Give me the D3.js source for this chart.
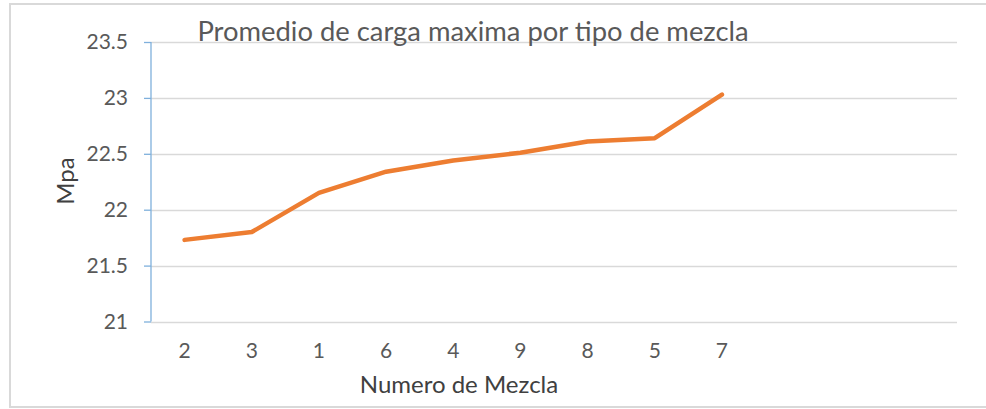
<!DOCTYPE html>
<html>
<head>
<meta charset="utf-8">
<script src="https://cdn.jsdelivr.net/npm/d3@7"></script>
<style>
	body { margin: 0; background: #fff; }
	#container { width: 986px; height: 409px; }
	text { font-family: Lato, "Open Sans", sans-serif; }
</style>
</head>
<body>
<div id="container"></div>
<script>
////////// DATA

var categories = ["2", "3", "1", "6", "4", "9", "8", "5", "7"]; // Numero de Mezcla, in plotted order
var values = [21.73, 21.80, 22.15, 22.34, 22.44, 22.51, 22.61, 22.64, 23.03]; // Mpa
var yTicks = [21, 21.5, 22, 22.5, 23, 23.5];
var xSlots = 12; // the category axis leaves room for 12 entries, only 9 are filled

var gWidth = 986;
var gHeight = 409;

function draw()
{
	var svg = d3.select("#container").append("svg")
		.attr("width", gWidth)
		.attr("height", gHeight);

	var left = 151, right = 957, top = 42, bottom = 321.5;

	var x = d3.scaleBand().domain(d3.range(xSlots)).range([left, right]);
	var y = d3.scaleLinear().domain([21, 23.5]).range([bottom, top]);

	// chart frame
	svg.append("rect")
		.attr("x", 10).attr("y", 4)
		.attr("width", gWidth + 10).attr("height", 403)
		.attr("fill", "none")
		.style("stroke", "#d9d9d9")
		.style("stroke-width", "2px");

	// grid lines
	svg.selectAll(".grid").data(yTicks).enter().append("line")
		.attr("class", "grid")
		.attr("x1", left).attr("x2", right)
		.attr("y1", function(d) { return Math.round(y(d)) + 0.5; })
		.attr("y2", function(d) { return Math.round(y(d)) + 0.5; })
		.style("stroke", "#d9d9d9")
		.style("stroke-width", "1.3px");

	// Y axis (blue, with ticks to the left)
	var yAxis = d3.axisLeft(y).tickValues(yTicks).tickSize(7).tickPadding(16)
		.tickFormat(function(d) { return d; });
	var gy = svg.append("g").attr("transform", "translate(" + left + ",0)").call(yAxis);
	gy.select(".domain").attr("d", "M0," + top + "V" + bottom).style("stroke", "#7fb0dc").style("stroke-width", "1.3px");
	gy.selectAll(".tick line").style("stroke", "#7fb0dc").style("stroke-width", "1.3px");
	gy.selectAll(".tick text")
		.style("font-family", "Lato, sans-serif")
		.style("font-size", "21px")
		.style("fill", "#595959");

	// X axis labels (no line, no ticks; line is the 21 gridline)
	var xAxis = d3.axisBottom(x).tickSize(0).tickPadding(22)
		.tickFormat(function(d) { return categories[d] || ""; });
	var gx = svg.append("g").attr("transform", "translate(0," + bottom + ")").call(xAxis);
	gx.select(".domain").remove();
	gx.selectAll(".tick text")
		.style("font-family", "Lato, sans-serif")
		.style("font-size", "21px")
		.style("fill", "#595959");

	// series line
	var line = d3.line()
		.x(function(d, i) { return x(i) + x.bandwidth() / 2; })
		.y(function(d) { return y(d); });
	svg.append("path")
		.datum(values)
		.attr("d", line)
		.attr("fill", "none")
		.style("stroke", "#ed7d31")
		.style("stroke-width", "4.5px")
		.style("stroke-linejoin", "round")
		.style("stroke-linecap", "round");

	// title
	svg.append("text")
		.attr("x", 473).attr("y", 41)
		.attr("text-anchor", "middle")
		.style("font-size", "27.4px")
		.style("fill", "#595959")
		.text("Promedio de carga maxima por tipo de mezcla");

	// axis titles
	svg.append("text")
		.attr("transform", "translate(74,181) rotate(-90)")
		.attr("text-anchor", "middle")
		.style("font-size", "24px")
		.style("fill", "#404040")
		.text("Mpa");

	svg.append("text")
		.attr("x", 459).attr("y", 393)
		.attr("text-anchor", "middle")
		.style("font-size", "24px")
		.style("fill", "#404040")
		.text("Numero de Mezcla");
}

draw();
</script>
</body>
</html>
